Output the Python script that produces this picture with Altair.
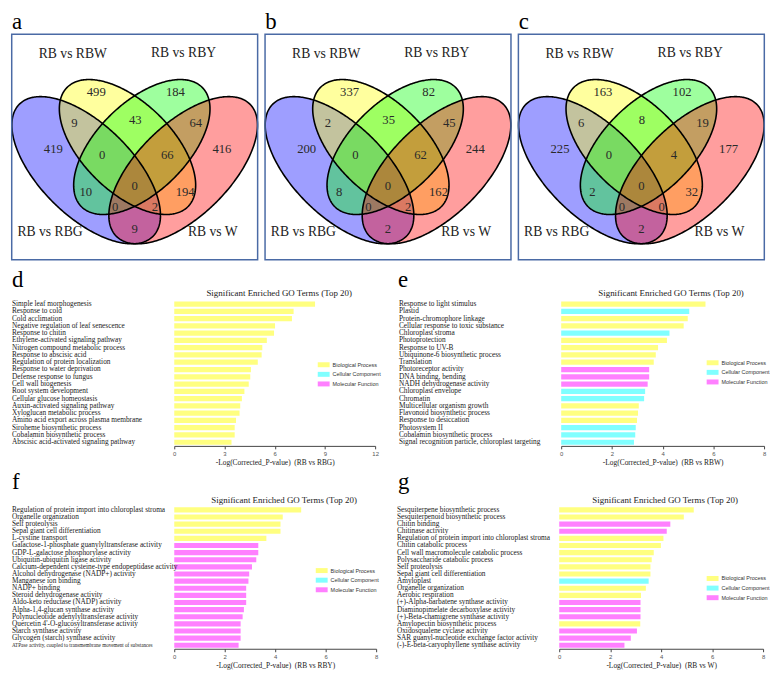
import altair as alt
import numpy as np
import pandas as pd

SERIF = "Liberation Serif"
SANS = "Liberation Sans"

# ---------------- Venn diagrams (panels a-c) ----------------
venn_sets = ["RB vs RBG", "RB vs RBW", "RB vs RBY", "RB vs W"]
venn_colors = ["#0000ff", "#ffff00", "#00ff00", "#ff0000"]
region_names = ["RBG", "RBW", "RBY", "W",
                "RBG&RBW", "RBW&RBY", "RBY&W", "RBG&RBY",
                "RBG&RBW&RBY", "RBW&RBY&W", "all", "RBW&W",
                "RBG&RBY&W", "RBG&RBW&W", "RBG&W"]
counts_a = [419, 499, 184, 416, 9, 43, 64, 10, 0, 66, 0, 194, 0, 2, 9]
counts_b = [200, 337, 82, 244, 2, 35, 45, 8, 0, 62, 0, 162, 0, 2, 2]
counts_c = [225, 163, 102, 177, 6, 8, 19, 2, 0, 4, 0, 32, 0, 0, 2]
venn_letters = ["a", "b", "c"]

# layout of the Venn panel (box spans 10..770 by 75..775)
region_pos = [(140, 430), (272, 255), (515, 255), (658, 430), (205, 352), (392, 340),
              (578, 350), (240, 565), (290, 450), (490, 450), (390, 545), (545, 565),
              (330, 610), (452, 612), (390, 680)]
set_label_pos = [(130, 690), (200, 135), (540, 132), (630, 690)]
ellipse_geom = [(241, 497, 290, 142, 45), (368, 425, 262, 138, 45),
                (412, 425, 262, 138, -45), (539, 497, 290, 142, -45)]

# ---------------- GO enrichment (panels d-g) ----------------
go_cats = ["Biological Process", "Cellular Component", "Molecular Function"]
go_colors = ["#ffff80", "#80ffff", "#ff80ff"]

terms_d = ["Simple leaf morphogenesis", "Response to cold", "Cold acclimation",
           "Negative regulation of leaf senescence", "Response to chitin",
           "Ethylene-activated signaling pathway", "Nitrogen compound metabolic process",
           "Response to abscisic acid", "Regulation of protein localization",
           "Response to water deprivation", "Defense response to fungus", "Cell wall biogenesis",
           "Root system development", "Cellular glucose homeostasis",
           "Auxin-activated signaling pathway", "Xyloglucan metabolic process",
           "Amino acid export across plasma membrane", "Siroheme biosynthetic process",
           "Cobalamin biosynthetic process", "Abscisic acid-activated signaling pathway"]
values_d = [8.41, 7.13, 7.03, 6.02, 5.96, 5.53, 5.26, 5.22, 4.99, 4.58,
            4.54, 4.45, 4.19, 4.04, 3.94, 3.90, 3.69, 3.61, 3.61, 3.42]
cats_d = ["BP"] * 20

terms_e = ["Response to light stimulus", "Plastid", "Protein-chromophore linkage",
           "Cellular response to toxic substance", "Chloroplast stroma", "Photoprotection",
           "Response to UV-B", "Ubiquinone-6 biosynthetic process", "Translation",
           "Photoreceptor activity", "DNA binding, bending", "NADH dehydrogenase activity",
           "Chloroplast envelope", "Chromatin", "Multicellular organism growth",
           "Flavonoid biosynthetic process", "Response to desiccation", "Photosystem II",
           "Cobalamin biosynthetic process", "Signal recognition particle, chloroplast targeting"]
values_e = [5.69, 5.05, 4.99, 4.83, 4.27, 4.17, 3.82, 3.73, 3.65, 3.47,
            3.47, 3.41, 3.31, 3.27, 3.06, 3.03, 2.99, 2.94, 2.92, 2.87]
cats_e = ["BP", "CC", "BP", "BP", "CC", "BP", "BP", "BP", "BP", "MF",
          "MF", "MF", "CC", "CC", "BP", "BP", "BP", "CC", "CC", "CC"]

terms_f = ["Regulation of protein import into chloroplast stroma", "Organelle organization",
           "Self proteolysis", "Sepal giant cell differentiation", "L-cystine transport",
           "Galactose-1-phosphate guanylyltransferase activity",
           "GDP-L-galactose phosphorylase activity", "Ubiquitin-ubiquitin ligase activity",
           "Calcium-dependent cysteine-type endopeptidase activity",
           "Alcohol dehydrogenase (NADP+) activity", "Manganese ion binding", "NADP+ binding",
           "Steroid dehydrogenase activity", "Aldo-keto reductase (NADP) activity",
           "Alpha-1,4-glucan synthase activity", "Polynucleotide adenylyltransferase activity",
           "Quercetin 4'-O-glucosyltransferase activity", "Starch synthase activity",
           "Glycogen (starch) synthase activity",
           "ATPase activity, coupled to transmembrane movement of substances"]
values_f = [5.03, 4.30, 4.21, 4.21, 3.65, 3.33, 3.33, 3.25, 3.08, 2.97,
            2.94, 2.85, 2.85, 2.85, 2.76, 2.71, 2.63, 2.63, 2.63, 2.55]
cats_f = ["BP"] * 5 + ["MF"] * 15

terms_g = ["Sesquiterpene biosynthetic process", "Sesquiterpenoid biosynthetic process",
           "Chitin binding", "Chitinase activity",
           "Regulation of protein import into chloroplast stroma", "Chitin catabolic process",
           "Cell wall macromolecule catabolic process", "Polysaccharide catabolic process",
           "Self proteolysis", "Sepal giant cell differentiation", "Amyloplast",
           "Organelle organization", "Aerobic respiration",
           "(+)-Alpha-barbatene synthase activity", "Diaminopimelate decarboxylase activity",
           "(+)-Beta-chamigrene synthase activity", "Amylopectin biosynthetic process",
           "Oxidosqualene cyclase activity", "SAR guanyl-nucleotide exchange factor activity",
           "(-)-E-beta-caryophyllene synthase activity"]
values_g = [5.28, 4.89, 4.36, 4.22, 4.09, 3.99, 3.71, 3.63, 3.58, 3.58,
            3.51, 3.40, 3.21, 3.19, 3.19, 3.19, 3.18, 3.05, 2.81, 2.56]
cats_g = ["BP", "BP", "MF", "MF", "BP", "BP", "BP", "BP", "BP", "BP",
          "CC", "BP", "BP", "MF", "MF", "MF", "BP", "MF", "MF", "MF"]

cat_full = {"BP": go_cats[0], "CC": go_cats[1], "MF": go_cats[2]}
go_title = "Significant Enriched GO Terms (Top 20)"

# ---------------- helpers ----------------
VW = 250


def nx(x):
    return (x - 10) / 760.0


def ny(y):
    return (y - 75) / 700.0


def ellipse_frames():
    areas, outl = [], []
    for k, (cx, cy, a, b, ang) in enumerate(ellipse_geom):
        th = np.radians(ang)
        c, s = np.cos(th), np.sin(th)
        xm = np.sqrt((a * c) ** 2 + (b * s) ** 2)
        X = xm * np.cos(np.linspace(np.pi, 0, 241))
        A = s * s / a ** 2 + c * c / b ** 2
        B = 2 * X * s * c * (1 / a ** 2 - 1 / b ** 2)
        C = X * X * (c * c / a ** 2 + s * s / b ** 2) - 1
        disc = np.clip(B * B - 4 * A * C, 0, None)
        y1 = (-B - np.sqrt(disc)) / (2 * A)
        y2 = (-B + np.sqrt(disc)) / (2 * A)
        areas.append(pd.DataFrame({"x": nx(cx + X), "ylo": ny(cy + y1), "yhi": ny(cy + y2)}))
        t = np.linspace(0, 2 * np.pi, 361)
        ex = cx + a * np.cos(t) * c - b * np.sin(t) * s
        ey = cy + a * np.cos(t) * s + b * np.sin(t) * c
        outl.append(pd.DataFrame({"x": nx(ex), "y": ny(ey), "set": venn_sets[k], "i": np.arange(len(t))}))
    return areas, pd.concat(outl, ignore_index=True)


AREAS, OUTLINE = ellipse_frames()


def venn_panel(letter, counts):
    xs = alt.Scale(domain=[0, 1], range=[0, VW], nice=False, zero=False)
    ys = alt.Scale(domain=[0, 1], range=[21, 249], nice=False, zero=False)
    layers = []
    for i in range(4):
        layers.append(
            alt.Chart(AREAS[i]).mark_area(color=venn_colors[i], opacity=0.38).encode(
                x=alt.X("x:Q", scale=xs, axis=None),
                y=alt.Y("ylo:Q", scale=ys, axis=None),
                y2="yhi:Q"))
    layers.append(
        alt.Chart(OUTLINE).mark_line(color="black", strokeWidth=1.6).encode(
            x=alt.X("x:Q", scale=xs, axis=None),
            y=alt.Y("y:Q", scale=ys, axis=None),
            detail="set:N", order="i:Q"))
    num_df = pd.DataFrame({"region": region_names, "n": [str(c) for c in counts],
                           "u": [nx(p[0]) for p in region_pos], "v": [ny(p[1]) for p in region_pos]})
    layers.append(
        alt.Chart(num_df).mark_text(font=SERIF, fontSize=12.8, color="#2a2a2a", baseline="middle").encode(
            x=alt.X("u:Q", scale=xs, axis=None), y=alt.Y("v:Q", scale=ys, axis=None), text="n:N"))
    lab_df = pd.DataFrame({"s": venn_sets, "u": [nx(p[0]) for p in set_label_pos],
                           "v": [ny(p[1]) for p in set_label_pos]})
    layers.append(
        alt.Chart(lab_df).mark_text(font=SERIF, fontSize=13.8, color="#222", baseline="middle").encode(
            x=alt.X("u:Q", scale=xs, axis=None), y=alt.Y("v:Q", scale=ys, axis=None), text="s:N"))
    one = pd.DataFrame({"t": [letter]})
    layers.append(
        alt.Chart(one).mark_rect(fillOpacity=0, stroke="#4a6aa5", strokeWidth=1.5).encode(
            x=alt.value(0.75), x2=alt.value(VW - 0.75), y=alt.value(21), y2=alt.value(249)))
    layers.append(
        alt.Chart(one).mark_text(font=SERIF, fontSize=23, color="black", align="left",
                                 baseline="alphabetic").encode(
            x=alt.value(1), y=alt.value(16), text="t:N"))
    return alt.layer(*layers).properties(width=VW, height=250)


def go_panel(letter, terms, vals, cats, xmax, ticks, comp, g):
    df = pd.DataFrame({"term": terms, "value": vals, "cat": [cat_full[c] for c in cats]})
    ysc = alt.Scale(range=g["bar_y"], paddingInner=0.28, paddingOuter=0.14)
    bars = alt.Chart(df).mark_bar().encode(
        x=alt.X("value:Q",
                scale=alt.Scale(domain=[0, xmax], range=g["bar_x"], nice=False, zero=True),
                axis=alt.Axis(values=ticks, format="d", tickSize=3, tickColor="#444",
                              domainColor="#444", domainWidth=1, tickWidth=1,
                              labelFont=SANS, labelFontSize=6, labelColor="#555",
                              labelPadding=1.5, labelFlush=False, grid=False,
                              title="-Log(Corrected_P-value)\u00a0\u00a0(" + comp + ")",
                              titleFont=SERIF, titleFontSize=7.5, titleFontWeight="normal",
                              titleColor="#222", titlePadding=2)),
        y=alt.Y("term:N", sort=terms, scale=ysc, axis=None),
        color=alt.Color("cat:N", scale=alt.Scale(domain=go_cats, range=go_colors),
                        legend=alt.Legend(orient="none", legendX=g["leg"][0], legendY=g["leg"][1],
                                          title=None, symbolType="M-1.2,-0.5H1.2V0.5H-1.2Z",
                                          symbolSize=100, symbolStrokeWidth=0,
                                          labelFont=SANS, labelFontSize=5.5, labelColor="#333",
                                          labelOffset=4, rowPadding=0.7, padding=0)))
    labels = alt.Chart(df).mark_text(align="left", baseline="middle", font=SERIF,
                                     color="#1a1a1a").encode(
        y=alt.Y("term:N", sort=terms, scale=ysc, axis=None),
        x=alt.value(g["label_x"]),
        text="term:N",
        size=alt.condition("length(datum.term) > 60", alt.value(5.2), alt.value(7.4)))
    one = pd.DataFrame({"t": [letter], "title": [go_title]})
    let = alt.Chart(one).mark_text(font=SERIF, fontSize=23, color="black", align="left",
                                   baseline="alphabetic").encode(
        x=alt.value(g["letter"][0]), y=alt.value(g["letter"][1]), text="t:N")
    ttl = alt.Chart(one).mark_text(font=SERIF, fontSize=9, color="#222", align="center",
                                   baseline="alphabetic").encode(
        x=alt.value(g["title"][0]), y=alt.value(g["title"][1]), text="title:N")
    return alt.layer(bars, labels, let, ttl).properties(width=g["w"], height=g["h"])


geo_d = dict(w=383, h=187, bar_y=[40, 187], bar_x=[165, 368], label_x=1,
             letter=(1, 26), title=(271, 35.5), leg=(311, 100))
geo_e = dict(w=379, h=187, bar_y=[40, 187], bar_x=[173, 378], label_x=9,
             letter=(8, 26), title=(284, 35.5), leg=(321, 98))
geo_f = dict(w=383, h=185, bar_y=[41, 185], bar_x=[165, 369], label_x=1,
             letter=(1, 24), title=(276, 38), leg=(309, 101))
geo_g = dict(w=379, h=185, bar_y=[41, 185], bar_x=[171, 377], label_x=7,
             letter=(8, 24), title=(278, 38), leg=(321, 109))

row1 = alt.hconcat(venn_panel("a", counts_a), venn_panel("b", counts_b), venn_panel("c", counts_c),
                   spacing=6, bounds="flush").resolve_scale(x="independent", y="independent")
row2 = alt.hconcat(
    go_panel("d", terms_d, values_d, cats_d, 12, [0, 3, 6, 9, 12], "RB vs RBG", geo_d),
    go_panel("e", terms_e, values_e, cats_e, 8, [0, 2, 4, 6, 8], "RB vs RBW", geo_e),
    spacing=0, bounds="flush").resolve_scale(x="independent", y="independent", color="independent")
row3 = alt.hconcat(
    go_panel("f", terms_f, values_f, cats_f, 8, [0, 2, 4, 6, 8], "RB vs RBY", geo_f),
    go_panel("g", terms_g, values_g, cats_g, 8, [0, 2, 4, 6, 8], "RB vs W", geo_g),
    spacing=0, bounds="flush").resolve_scale(x="independent", y="independent", color="independent")

chart = alt.vconcat(row1, row2, row3, spacing=0).resolve_scale(
    x="independent", y="independent", color="independent"
).properties(
    padding={"left": 0, "top": 0, "right": 0, "bottom": 0}
).configure_view(stroke=None)

chart.save("out.html", embed_options={"renderer": "svg", "actions": False})
